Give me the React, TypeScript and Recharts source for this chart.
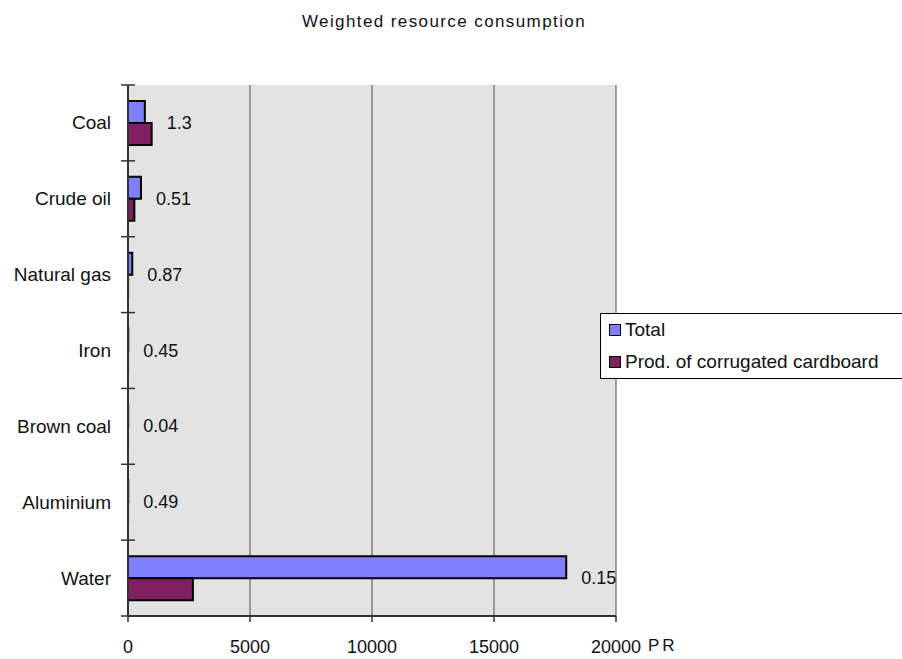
import React from 'react';
import { BarChart, Bar, XAxis, YAxis, CartesianGrid, LabelList, Legend } from 'recharts';

const categories = ['Coal', 'Crude oil', 'Natural gas', 'Iron', 'Brown coal', 'Aluminium', 'Water'];
const totalValues = [690, 530, 175, 12, 8, 10, 17960];
const prodValues = [970, 260, 4, 3, 2, 3, 2660];
const ratioLabels = ['1.3', '0.51', '0.87', '0.45', '0.04', '0.49', '0.15'];
const xTicks = [0, 5000, 10000, 15000, 20000];
const seriesNames = ['Total', 'Prod. of corrugated cardboard'];
const seriesColors = ['#8080FF', '#802060'];

const data = categories.map((name, i) => ({
  name,
  total: totalValues[i],
  prod: prodValues[i],
}));

const FONT = '"Liberation Sans", Arial, sans-serif';
const TEXT = '#111';

function YTick(props: any) {
  const { x, y, payload, index } = props;
  const half = payload && payload.offset ? payload.offset : 531 / categories.length / 2;
  const axisX = x + 17;
  const last = index === categories.length - 1;
  return (
    <g>
      <line x1={axisX - 7} x2={axisX + 7} y1={y - half} y2={y - half} stroke="#333" strokeWidth={1.5} />
      {last && <line x1={axisX - 7} x2={axisX} y1={y + half} y2={y + half} stroke="#333" strokeWidth={1.5} />}
      <text x={x} y={y} textAnchor="end" dominantBaseline="central" fontSize={19} fill={TEXT} fontFamily={FONT}>
        {payload.value}
      </text>
    </g>
  );
}

function renderRatio(props: any) {
  const vb = props.viewBox || {};
  const x = props.x ?? vb.x;
  const y = props.y ?? vb.y;
  const width = props.width ?? vb.width;
  const height = props.height ?? vb.height;
  const index = props.index;
  const t = totalValues[index];
  const p = prodValues[index];
  const end = x + (t > 0 ? width * Math.max(1, p / t) : 0);
  return (
    <text x={end + 15} y={y + height} dominantBaseline="central" fontSize={18} fill={TEXT} fontFamily={FONT}>
      {ratioLabels[index]}
    </text>
  );
}

function renderLegend(props: any) {
  const payload = [...(props.payload || [])].sort(
    (a: any, b: any) => seriesNames.indexOf(a.value) - seriesNames.indexOf(b.value)
  );
  return (
    <div
      style={{
        border: '1px solid #000',
        background: '#fff',
        width: 310,
        height: 66,
        boxSizing: 'border-box',
        fontFamily: FONT,
      }}
    >
      {payload.map((item: any, i: number) => (
        <div key={i} style={{ height: 32, display: 'flex', alignItems: 'center', paddingLeft: 8 }}>
          <span
            style={{
              display: 'inline-block',
              width: 10,
              height: 10,
              border: '1.5px solid #000',
              background: item.color,
              marginRight: 4,
            }}
          />
          <span style={{ fontSize: 19, color: TEXT, whiteSpace: 'nowrap' }}>{item.value}</span>
        </div>
      ))}
    </div>
  );
}

export default function App() {
  return (
    <div style={{ position: 'absolute', left: 0, top: 0, width: 902, height: 659, fontFamily: FONT, background: '#fff' }}>
      <div
        style={{
          position: 'absolute',
          left: 0,
          top: 12,
          width: 888,
          textAlign: 'center',
          fontSize: 17,
          lineHeight: '20px',
          letterSpacing: 1.4,
          color: TEXT,
          zIndex: 2,
        }}
      >
        Weighted resource consumption
      </div>
      <BarChart
        width={902}
        height={659}
        data={data}
        layout="vertical"
        margin={{ top: 85, right: 286, bottom: 0, left: 0 }}
        barCategoryGap={16}
        barGap={0}
      >
        <CartesianGrid horizontal={false} vertical stroke="#4d4d4d" fill="#E3E3E3" fillOpacity={1} />
        <XAxis
          type="number"
          domain={[0, 20000]}
          ticks={xTicks}
          height={43}
          tickSize={6}
          tickMargin={18}
          interval={0}
          axisLine={{ stroke: '#333', strokeWidth: 2 }}
          tickLine={{ stroke: '#333', strokeWidth: 1.5 }}
          tick={{ fontSize: 18, fill: TEXT, fontFamily: FONT }}
          label={{ value: 'PR', position: 'right', offset: 32, dy: 7, fontSize: 17, fill: TEXT, letterSpacing: 3 }}
        />
        <XAxis
          xAxisId="top"
          orientation="top"
          type="number"
          domain={[0, 20000]}
          height={0}
          tick={false}
          tickLine={false}
          axisLine={{ stroke: '#888', strokeWidth: 2 }}
        />
        <YAxis
          type="category"
          dataKey="name"
          width={128}
          tickSize={0}
          tickMargin={17}
          tickLine={false}
          interval={0}
          axisLine={{ stroke: '#333', strokeWidth: 2 }}
          tick={<YTick />}
        />
        <YAxis
          yAxisId="right"
          orientation="right"
          type="category"
          dataKey="name"
          width={0}
          tick={false}
          tickLine={false}
          axisLine={{ stroke: '#888', strokeWidth: 2 }}
        />
        <Bar dataKey="total" name={seriesNames[0]} fill={seriesColors[0]} stroke="#000" strokeWidth={2} isAnimationActive={false}>
          <LabelList content={renderRatio} />
        </Bar>
        <Bar dataKey="prod" name={seriesNames[1]} fill={seriesColors[1]} stroke="#000" strokeWidth={2} isAnimationActive={false} />
        <Legend
          layout="horizontal"
          verticalAlign="middle"
          align="center"
          content={renderLegend}
          wrapperStyle={{ left: 600, top: 313, width: 310, height: 66 }}
        />
      </BarChart>
    </div>
  );
}
